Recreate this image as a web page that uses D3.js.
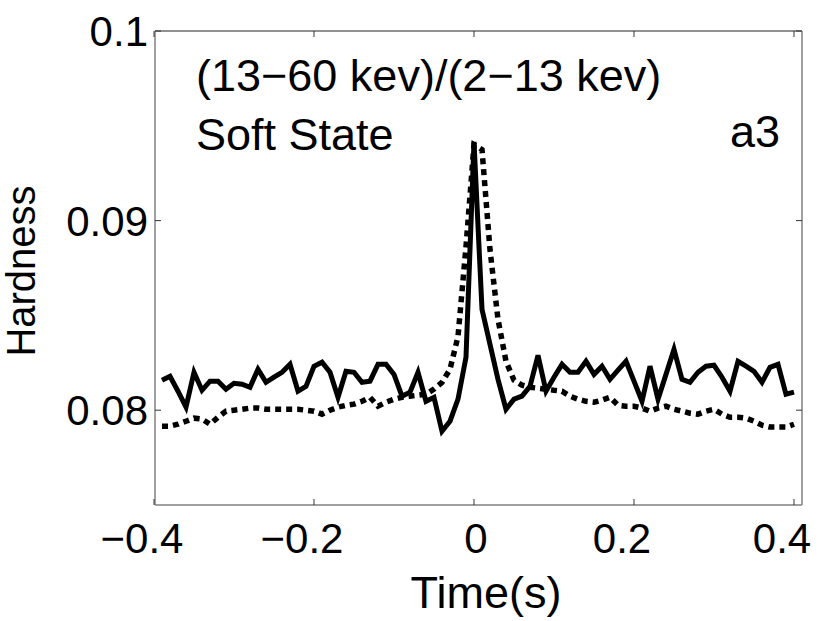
<!DOCTYPE html>
<html>
<head>
<meta charset="utf-8">
<script src="https://cdn.jsdelivr.net/npm/d3@7"></script>
<style>
  html, body { margin: 0; padding: 0; background: #fff; }
  svg { display: block; font-family: "Liberation Sans", Arial, sans-serif; }
</style>
</head>
<body>
<svg id="chart" width="830" height="621"></svg>
<script>
// time grid (s)
const times = [
  -0.39, -0.38, -0.37, -0.36, -0.35, -0.34, -0.33, -0.32, -0.31, -0.30,
  -0.29, -0.28, -0.27, -0.26, -0.25, -0.24, -0.23, -0.22, -0.21, -0.20,
  -0.19, -0.18, -0.17, -0.16, -0.15, -0.14, -0.13, -0.12, -0.11, -0.10,
  -0.09, -0.08, -0.07, -0.06, -0.05, -0.04, -0.03, -0.02, -0.01, 0.00,
  0.01, 0.02, 0.03, 0.04, 0.05, 0.06, 0.07, 0.08, 0.09, 0.10,
  0.11, 0.12, 0.13, 0.14, 0.15, 0.16, 0.17, 0.18, 0.19, 0.20,
  0.21, 0.22, 0.23, 0.24, 0.25, 0.26, 0.27, 0.28, 0.29, 0.30,
  0.31, 0.32, 0.33, 0.34, 0.35, 0.36, 0.37, 0.38, 0.39, 0.40
];

// solid curve
const hardSolid = [
  0.08158, 0.08179, 0.08100, 0.08016, 0.08200, 0.08105, 0.08153, 0.08153, 0.08111, 0.08142,
  0.08137, 0.08121, 0.08216, 0.08147, 0.08174, 0.08200, 0.08242, 0.08100, 0.08126, 0.08232,
  0.08253, 0.08200, 0.08068, 0.08205, 0.08200, 0.08147, 0.08153, 0.08242, 0.08242, 0.08189,
  0.08074, 0.08095, 0.08200, 0.08047, 0.08068, 0.07889, 0.07942, 0.08058, 0.08279, 0.09415,
  0.08532, 0.08347, 0.08163, 0.08005, 0.08058, 0.08074, 0.08126, 0.08289, 0.08100, 0.08174,
  0.08242, 0.08200, 0.08200, 0.08258, 0.08189, 0.08232, 0.08163, 0.08211, 0.08258, 0.08153,
  0.08047, 0.08232, 0.08058, 0.08189, 0.08321, 0.08163, 0.08147, 0.08200, 0.08232, 0.08237,
  0.08174, 0.08100, 0.08258, 0.08232, 0.08205, 0.08147, 0.08226, 0.08242, 0.08084, 0.08095
];

// dotted curve
const hardDotted = [
  0.07916, 0.07916, 0.07926, 0.07942, 0.07958, 0.07953, 0.07926, 0.07963, 0.07995, 0.08000,
  0.08005, 0.08011, 0.08011, 0.08005, 0.08005, 0.08005, 0.08005, 0.08005, 0.08000, 0.07995,
  0.07979, 0.08000, 0.08016, 0.08026, 0.08032, 0.08047, 0.08068, 0.08021, 0.08042, 0.08058,
  0.08068, 0.08074, 0.08079, 0.08084, 0.08111, 0.08147, 0.08216, 0.08389, 0.08863, 0.09400,
  0.09374, 0.08847, 0.08479, 0.08258, 0.08158, 0.08132, 0.08121, 0.08116, 0.08111, 0.08105,
  0.08100, 0.08074, 0.08058, 0.08047, 0.08042, 0.08053, 0.08068, 0.08026, 0.08021, 0.08021,
  0.08011, 0.07995, 0.08011, 0.08021, 0.08005, 0.07995, 0.07984, 0.07979, 0.07995, 0.08005,
  0.07979, 0.07963, 0.07963, 0.07958, 0.07942, 0.07921, 0.07911, 0.07911, 0.07911, 0.07926
];

const xTicks = [-0.4, -0.2, 0, 0.2, 0.4];
const xTickLabels = ['\u22120.4', '\u22120.2', '0', '0.2', '0.4'];
const yTicks = [0.08, 0.09, 0.1];
const yTickLabels = ['0.08', '0.09', '0.1'];

const svg = d3.select('#chart');
const plotLeft = 155, plotRight = 802, plotTop = 31, plotBottom = 505;

const x = d3.scaleLinear().domain([-0.4, 0.41]).range([plotLeft - 1, plotRight]);
const y = d3.scaleLinear().domain([0.075, 0.1]).range([plotBottom, plotTop]);

const tickFont = 42;
const textFont = 45;

// axes box
svg.append('line').attr('x1', plotLeft).attr('x2', plotRight).attr('y1', plotTop).attr('y2', plotTop)
  .attr('stroke', '#222').attr('stroke-width', 1);
svg.append('line').attr('x1', plotRight).attr('x2', plotRight).attr('y1', plotTop).attr('y2', plotBottom)
  .attr('stroke', '#808080').attr('stroke-width', 1.5);
svg.append('line').attr('x1', plotLeft).attr('x2', plotRight).attr('y1', plotBottom).attr('y2', plotBottom)
  .attr('stroke', '#808080').attr('stroke-width', 1.5);
svg.append('line').attr('x1', plotLeft).attr('x2', plotLeft).attr('y1', plotTop).attr('y2', plotBottom)
  .attr('stroke', '#808080').attr('stroke-width', 1.5);

// inward ticks
const tickLen = 6;
xTicks.forEach((t, i) => {
  const px = x(t);
  svg.append('line').attr('x1', px).attr('x2', px).attr('y1', plotBottom).attr('y2', plotBottom - tickLen)
    .attr('stroke', '#333').attr('stroke-width', 1);
  svg.append('line').attr('x1', px).attr('x2', px).attr('y1', plotTop).attr('y2', plotTop + tickLen)
    .attr('stroke', '#333').attr('stroke-width', 1);
  svg.append('text')
    .attr('x', px + (t === 0 ? 2 : -12))
    .attr('y', plotBottom + 48)
    .attr('text-anchor', 'middle')
    .attr('font-size', tickFont)
    .attr('fill', '#000')
    .text(xTickLabels[i]);
});

yTicks.forEach((t, i) => {
  const py = y(t);
  svg.append('line').attr('x1', plotLeft).attr('x2', plotLeft + tickLen).attr('y1', py).attr('y2', py)
    .attr('stroke', '#333').attr('stroke-width', 1);
  svg.append('line').attr('x1', plotRight).attr('x2', plotRight - tickLen).attr('y1', py).attr('y2', py)
    .attr('stroke', '#333').attr('stroke-width', 1);
  svg.append('text')
    .attr('x', plotLeft - 7)
    .attr('y', py + 15)
    .attr('text-anchor', 'end')
    .attr('font-size', tickFont)
    .attr('fill', '#000')
    .text(yTickLabels[i]);
});

// curves
const line = d3.line().x((d, i) => x(times[i])).y(d => y(d));

svg.append('path')
  .datum(hardDotted)
  .attr('d', line)
  .attr('fill', 'none')
  .attr('stroke', '#000')
  .attr('stroke-width', 5.5)
  .attr('stroke-dasharray', '6 5')
  .attr('stroke-linejoin', 'miter');

svg.append('path')
  .datum(hardSolid)
  .attr('d', line)
  .attr('fill', 'none')
  .attr('stroke', '#000')
  .attr('stroke-width', 5)
  .attr('stroke-linejoin', 'miter');

// annotations
svg.append('text').attr('x', 196).attr('y', 91).attr('font-size', textFont).attr('fill', '#000')
  .text('(13\u221260 kev)/(2\u221213 kev)');
svg.append('text').attr('x', 196).attr('y', 150).attr('font-size', textFont).attr('fill', '#000')
  .text('Soft State');
svg.append('text').attr('x', 730).attr('y', 147).attr('font-size', textFont).attr('fill', '#000')
  .text('a3');

// axis titles
svg.append('text')
  .attr('x', 486)
  .attr('y', 608)
  .attr('text-anchor', 'middle')
  .attr('font-size', textFont)
  .attr('fill', '#000')
  .text('Time(s)');
svg.append('text')
  .attr('transform', 'translate(35, 271) rotate(-90)')
  .attr('text-anchor', 'middle')
  .attr('font-size', 40)
  .attr('fill', '#000')
  .text('Hardness');
</script>
</body>
</html>
